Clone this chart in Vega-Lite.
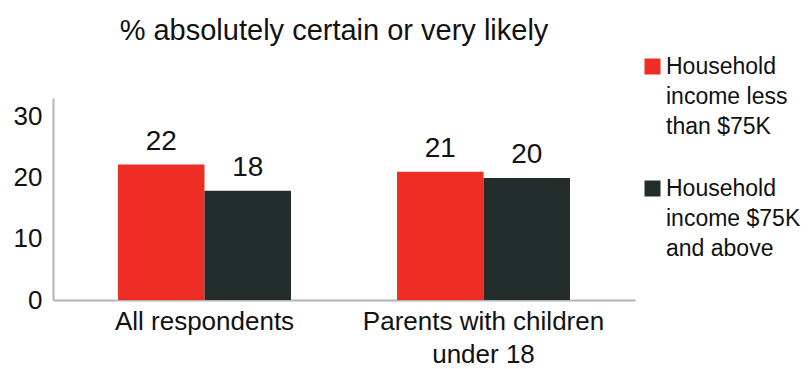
{
  "$schema": "https://vega.github.io/schema/vega-lite/v6.json",
  "width": 582,
  "height": 202,
  "autosize": "none",
  "padding": {"left": 53, "top": 98, "right": 174, "bottom": 69},
  "background": "white",
  "title": {
    "text": "% absolutely certain or very likely",
    "font": "Liberation Sans",
    "fontSize": 29,
    "fontWeight": "normal",
    "color": "#111111",
    "anchor": "middle",
    "frame": "group",
    "baseline": "alphabetic",
    "offset": -14,
    "dx": -10
  },
  "config": {
    "view": {"stroke": null},
    "style": {"guide-label": {"lineHeight": 30}}
  },
  "data": {
    "values": [
      {"group": "All respondents", "income": "Household income less than $75K", "value": 22.2, "label": 22},
      {"group": "All respondents", "income": "Household income $75K and above", "value": 17.9, "label": 18},
      {"group": "Parents with children under 18", "income": "Household income less than $75K", "value": 21.0, "label": 21},
      {"group": "Parents with children under 18", "income": "Household income $75K and above", "value": 20.0, "label": 20}
    ]
  },
  "encoding": {
    "x": {
      "field": "group",
      "type": "nominal",
      "sort": null,
      "scale": {"paddingInner": 0.38, "paddingOuter": 0.233},
      "axis": {
        "title": null,
        "labelAngle": 0,
        "ticks": false,
        "domainColor": "#b3b3b3",
        "domainWidth": 2,
        "labelFont": "Liberation Sans",
        "labelFontSize": 26,
        "labelColor": "#111111",
        "labelPadding": 8,
        "labelBaseline": "top",
        "labelLineHeight": 33,
        "labelLimit": 400,
        "labelExpr": "datum.label == 'Parents with children under 18' ? ['Parents with children', 'under 18'] : datum.label"
      }
    },
    "xOffset": {
      "field": "income",
      "type": "nominal",
      "sort": ["Household income less than $75K", "Household income $75K and above"],
      "scale": {"paddingInner": 0, "paddingOuter": 0}
    },
    "y": {
      "field": "value",
      "type": "quantitative",
      "scale": {"domain": [0, 33.1], "nice": false},
      "axis": {
        "title": null,
        "values": [0, 10, 20, 30],
        "grid": false,
        "ticks": false,
        "domainColor": "#b3b3b3",
        "domainWidth": 2,
        "labelFont": "Liberation Sans",
        "labelFontSize": 26,
        "labelColor": "#111111",
        "labelPadding": 11
      }
    }
  },
  "layer": [
    {
      "mark": {"type": "bar"},
      "encoding": {
        "color": {
          "field": "income",
          "type": "nominal",
          "sort": ["Household income less than $75K", "Household income $75K and above"],
          "scale": {
            "domain": ["Household income less than $75K", "Household income $75K and above"],
            "range": ["#ee2e24", "#232d2b"]
          },
          "legend": {
            "title": null,
            "orient": "none",
            "legendX": 588,
            "legendY": -43,
            "symbolType": "square",
            "symbolSize": 256,
            "symbolStrokeWidth": 0,
            "symbolOpacity": 1,
            "labelFont": "Liberation Sans",
            "labelFontSize": 23,
            "labelColor": "#111111",
            "labelLimit": 300,
            "labelOffset": 2,
            "labelBaseline": "middle",
            "rowPadding": 38,
            "labelExpr": "datum.label == 'Household income less than $75K' ? ['Household', 'income less', 'than $75K'] : ['Household', 'income $75K', 'and above']"
          }
        }
      }
    },
    {
      "mark": {
        "type": "text",
        "baseline": "alphabetic",
        "dy": -15,
        "font": "Liberation Sans",
        "fontSize": 28,
        "color": "#111111"
      },
      "encoding": {
        "text": {"field": "label", "type": "quantitative"}
      }
    }
  ]
}
